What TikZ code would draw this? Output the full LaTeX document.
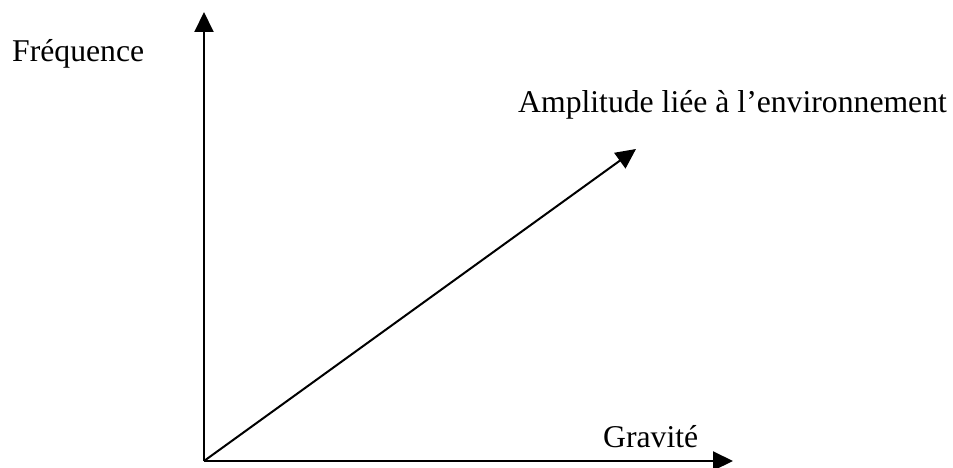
\documentclass[tikz,border=0pt]{standalone}
\usepackage{fontspec}
\setmainfont{Liberation Serif}
\usetikzlibrary{arrows.meta}
\begin{document}
\begin{tikzpicture}[x=1pt,y=-1pt,
  axis/.style={line width=2pt,-{Triangle[length=20pt,width=19pt]}},
  lbl/.style={anchor=base west,inner sep=0pt,font=\fontsize{31.7}{38}\selectfont}]
\useasboundingbox (0,0) rectangle (953,468);
\coordinate (O) at (204,461);
\coordinate (Ytop) at (204,12);
\coordinate (Xend) at (733,461);
\coordinate (Dend) at (636,149);
\draw[axis] (O) -- (Ytop);
\draw[axis] (O) -- (Xend);
\draw[axis] (O) -- (Dend);
\node[lbl] (freq) at (12,62) {Fréquence};
\node[lbl] (ampl) at (518,113) {Amplitude liée à l’environnement};
\node[lbl] (grav) at (603,447) {Gravité};
\end{tikzpicture}
\end{document}
